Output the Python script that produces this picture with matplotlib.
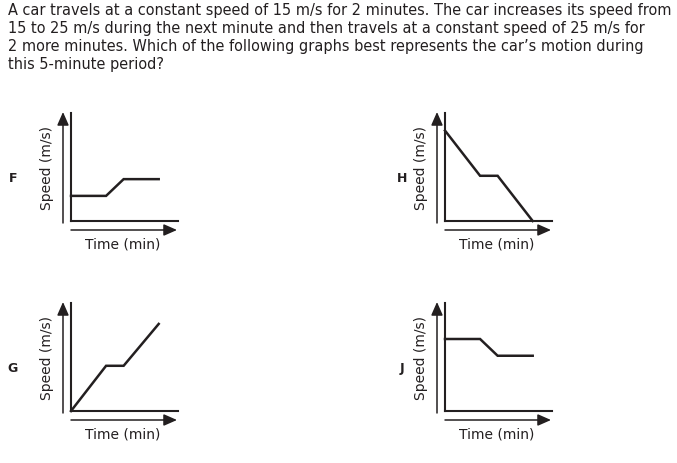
import matplotlib
matplotlib.use('Agg')
import matplotlib.pyplot as plt

W, H = 677, 464
fig = plt.figure(figsize=(W / 100, H / 100), dpi=100)

# question text
question = [
    "A car travels at a constant speed of 15 m/s for 2 minutes. The car increases its speed from",
    "15 to 25 m/s during the next minute and then travels at a constant speed of 25 m/s for",
    "2 more minutes. Which of the following graphs best represents the car\u2019s motion during",
    "this 5-minute period?",
]

# answer choices: time (min) and speed (m/s)
labels = ['F', 'H', 'G', 'J']
time_F = [0, 2, 3, 5]
speed_F = [15, 15, 25, 25]
time_H = [0, 2, 3, 5]
speed_H = [54, 27, 27, 0]
time_G = [0, 2, 3, 5]
speed_G = [0, 27, 27, 52]
time_J = [0, 2, 3, 5]
speed_J = [43, 43, 33, 33]
series = {'F': (time_F, speed_F), 'H': (time_H, speed_H),
          'G': (time_G, speed_G), 'J': (time_J, speed_J)}

ink = '#231f20'


def px(x, y):
    """pixel (top-left origin) -> figure fraction"""
    return x / W, 1 - y / H


for i, line in enumerate(question):
    fx, fy = px(8, 15 + i * 18)
    fig.text(fx, fy, line, fontsize=10.48, color=ink, va='baseline', ha='left')

# panel positions (left, top) in pixels
pos = {'F': (71, 114), 'H': (445, 114), 'G': (71, 304), 'J': (445, 304)}
aw, ah = 107, 108

arrow_kw = dict(arrowstyle='-|>,head_length=0.5,head_width=0.22', color=ink,
                lw=1.1, mutation_scale=16, shrinkA=0, shrinkB=0)

for lab in labels:
    left, top = pos[lab]
    x0, y0 = px(left, top + ah)
    ax = fig.add_axes([x0, y0, aw / W, ah / H])
    t, v = series[lab]
    ax.plot(t, v, color=ink, lw=1.8, solid_joinstyle='miter', clip_on=False)
    ax.set_xlim(0, 6.1)
    ax.set_ylim(0, 64.5)
    ax.set_xticks([])
    ax.set_yticks([])
    for s in ['top', 'right']:
        ax.spines[s].set_visible(False)
    for s in ['left', 'bottom']:
        ax.spines[s].set_linewidth(1.5)
        ax.spines[s].set_color(ink)
    ax.patch.set_alpha(0)

    # arrows beside the axes
    ax.annotate('', xy=(-8 / aw, 1 + 1 / ah), xytext=(-8 / aw, -2 / ah),
                xycoords='axes fraction', annotation_clip=False,
                arrowprops=arrow_kw)
    ax.annotate('', xy=(1 - 1 / aw, -9 / ah), xytext=(0, -9 / ah),
                xycoords='axes fraction', annotation_clip=False,
                arrowprops=arrow_kw)

    ax.text(52 / aw, -23 / ah, 'Time (min)', transform=ax.transAxes,
            ha='center', va='center', fontsize=10, color=ink)
    ax.text(-24 / aw, 0.5, 'Speed (m/s)', transform=ax.transAxes,
            ha='center', va='center', rotation=90, fontsize=10, color=ink)

    lx = 13 if left < 300 else 402
    fx, fy = px(lx, top + 65)
    fig.text(fx, fy, lab, fontsize=9, fontweight='bold', color=ink,
             ha='center', va='center')

fig.savefig('out.png', dpi=100, facecolor='white')
